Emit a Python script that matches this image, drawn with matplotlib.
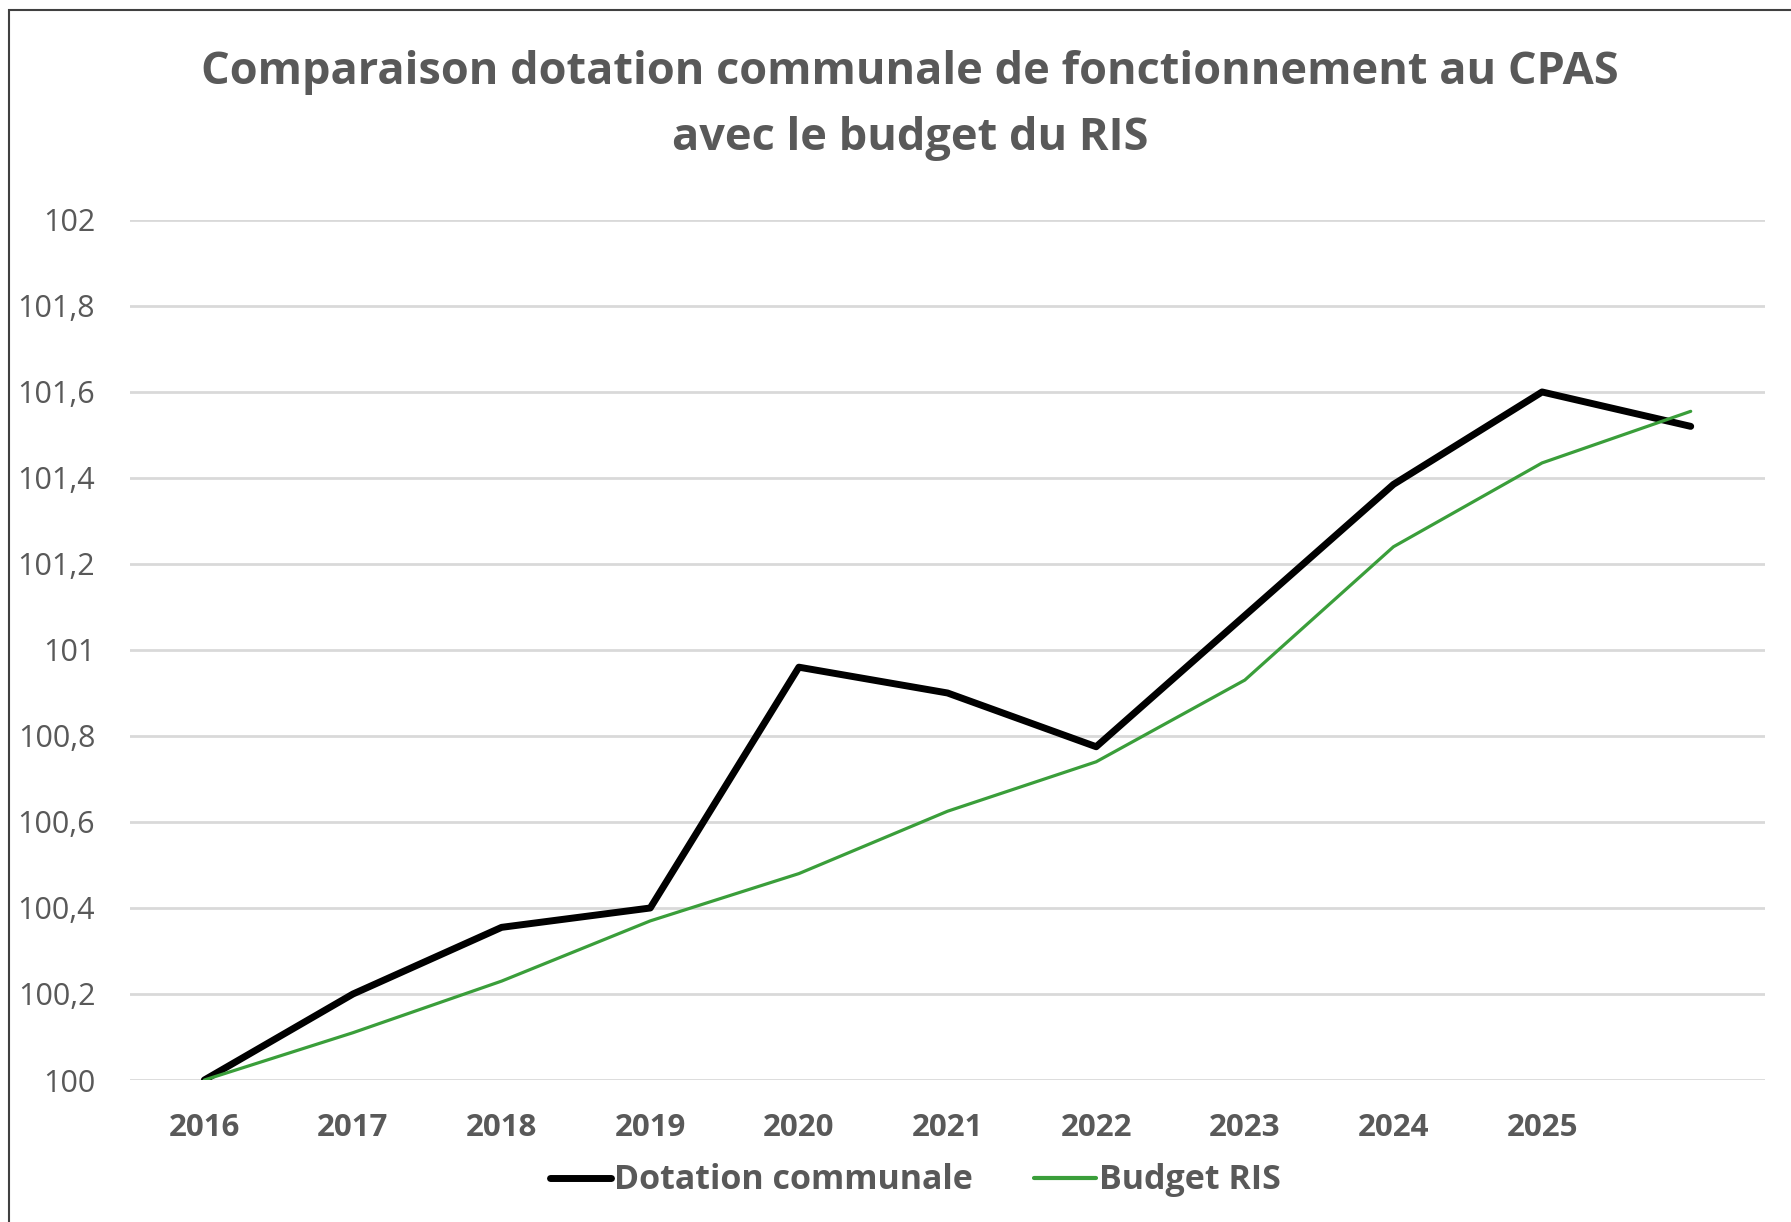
import matplotlib.pyplot as plt
from matplotlib.patches import Rectangle
from matplotlib.ticker import FuncFormatter

plt.rcParams['font.family'] = ['Open Sans', 'DejaVu Sans']

GREY = '#595959'

years = ['2016', '2017', '2018', '2019', '2020', '2021', '2022', '2023', '2024', '2025', '']
dotation = [100, 100.20, 100.355, 100.40, 100.96, 100.90, 100.775, 101.08, 101.385, 101.60, 101.52]
budget_ris = [100, 100.11, 100.23, 100.37, 100.48, 100.625, 100.74, 100.93, 101.24, 101.435, 101.555]
y_ticks = [100, 100.2, 100.4, 100.6, 100.8, 101, 101.2, 101.4, 101.6, 101.8, 102]

fig = plt.figure(figsize=(17.91, 12.22), dpi=100)
ax = fig.add_axes([0.0726, 0.1162, 0.9129, 0.7038])

x = list(range(len(years)))
ax.plot(x, dotation, color='black', lw=5, solid_capstyle='round',
        label='Dotation communale', zorder=3)
ax.plot(x, budget_ris, color='#3a9e3a', lw=2.3, solid_capstyle='round',
        label='Budget RIS', zorder=4)

ax.set_xlim(-0.5, len(years) - 0.5)
ax.set_ylim(100, 102)
ax.set_xticks(x)
ax.set_xticklabels(years, fontweight='bold')
ax.set_yticks(y_ticks)
ax.yaxis.set_major_formatter(FuncFormatter(lambda v, _: f'{v:g}'.replace('.', ',')))

ax.tick_params(axis='y', length=0, pad=25, labelsize=22, labelcolor=GREY)
ax.tick_params(axis='x', length=0, pad=24, labelsize=22.5, labelcolor=GREY)
ax.grid(axis='y', color='#d9d9d9', lw=2)
ax.set_axisbelow(True)
for s in ax.spines.values():
    s.set_visible(False)

fig.text(0.508, 0.9405, 'Comparaison dotation communale de fonctionnement au CPAS',
         ha='center', va='center', fontsize=32.5, fontweight='bold', color=GREY)
fig.text(0.508, 0.8865, 'avec le budget du RIS',
         ha='center', va='center', fontsize=32.5, fontweight='bold', color=GREY)

leg = fig.legend(loc='center', bbox_to_anchor=(0.511, 0.034), ncol=2, frameon=False,
                 fontsize=24.5, handlelength=1.8, handletextpad=0.1, columnspacing=1.8)
for t in leg.get_texts():
    t.set_color(GREY)
    t.set_fontweight('bold')
leg.get_lines()[1].set_linewidth(3)

fig.patches.append(Rectangle((9 / 1791, -0.05), 1.2, 1 - 10 / 1222 + 0.05,
                             transform=fig.transFigure, fill=False,
                             edgecolor='#404040', lw=1.5))

fig.savefig('out.png', dpi=100)
